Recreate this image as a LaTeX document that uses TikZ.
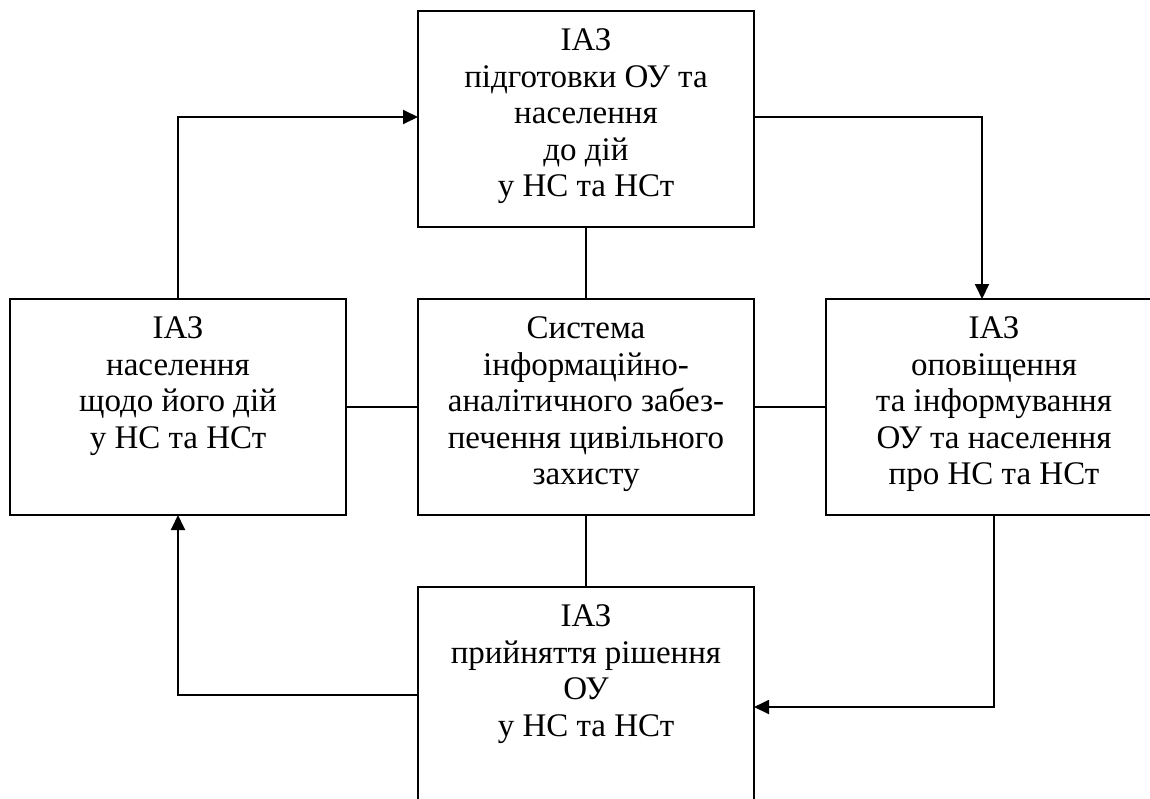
\documentclass[tikz,border=0pt]{standalone}
\usepackage{fontspec}
\setmainfont{Liberation Serif}
\usetikzlibrary{arrows.meta}
\begin{document}
\begin{tikzpicture}[x=1pt,y=-1pt,
  box/.style={draw, line width=1.9pt, minimum width=336pt, minimum height=216pt, inner sep=0pt, outer sep=0pt, anchor=north west},
  txt/.style={anchor=north, inner sep=0pt, align=center, font=\fontsize{33}{36.5}\selectfont},
  link/.style={line width=1.9pt},
  arr/.style={line width=1.9pt, -{Triangle[length=15pt,width=14pt]}}]
\useasboundingbox (0,0) rectangle (1150,798);
\clip (0,0) rectangle (1150,798);
\fill[white] (0,0) rectangle (1150,798);
\node[box] (top) at (418,11) {};
\node[box] (left) at (10,299) {};
\node[box] (center) at (418,299) {};
\node[box] (right) at (826,299) {};
\node[box] (bottom) at (418,587) {};
\node[txt] (toptxt) at ([yshift=-14pt]top.north) {\strut ІАЗ\\підготовки ОУ та\\населення\\до дій\\у НС та НСт};
\node[txt] (lefttxt) at ([yshift=-14pt]left.north) {\strut ІАЗ\\населення\\щодо його дій\\у НС та НСт};
\node[txt] (centertxt) at ([yshift=-14pt]center.north) {\strut Система\\інформаційно-\\аналітичного забез-\\печення цивільного\\захисту};
\node[txt] (righttxt) at ([yshift=-14pt]right.north) {\strut ІАЗ\\оповіщення\\та інформування\\ОУ та населення\\про НС та НСт};
\node[txt] (bottomtxt) at ([yshift=-14pt]bottom.north) {\strut ІАЗ\\прийняття рішення\\ОУ\\у НС та НСт};
\draw[link] (top.south) -- (center.north);
\draw[link] (center.south) -- (bottom.north);
\draw[link] (left.east) -- (center.west);
\draw[link] (center.east) -- (right.west);
\draw[arr] (left.north) |- ([yshift=2pt]top.west);
\draw[arr] ([yshift=2pt]top.east) -| ([xshift=-12pt]right.north);
\draw[arr] (right.south) |- ([yshift=-12pt]bottom.east);
\draw[arr] (bottom.west) -| (left.south);
\end{tikzpicture}
\end{document}
